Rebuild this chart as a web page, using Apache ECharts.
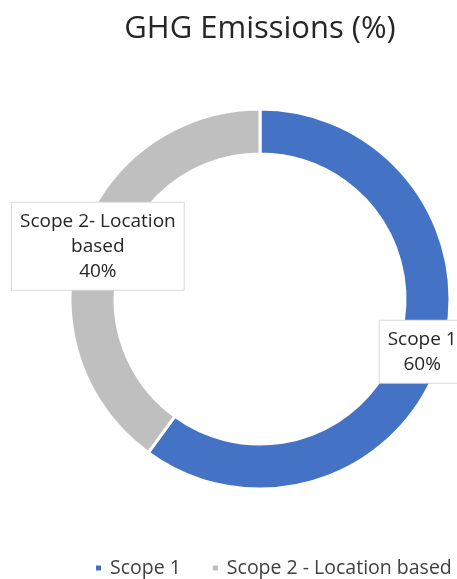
<!DOCTYPE html>
<html>
<head>
<meta charset="utf-8">
<script src="https://cdn.jsdelivr.net/npm/echarts@6/dist/echarts.min.js"></script>
<style>
  html, body { margin: 0; padding: 0; background: #fff; }
  #chart { width: 457px; height: 579px; }
</style>
</head>
<body>
<div id="chart"></div>
<script>
  // data
  var categories = ['Scope 1', 'Scope 2 - Location based'];
  var labelTexts = ['Scope 1', 'Scope 2- Location\nbased'];
  var values = [60, 40];
  var colors = ['#4472C4', '#BFBFBF'];

  var font = '"Open Sans", sans-serif';
  var chart = echarts.init(document.getElementById('chart'));

  var pieData = categories.map(function (name, i) {
    return { name: name, value: values[i], itemStyle: { color: colors[i] } };
  });

  chart.setOption({
    animation: false,
    title: {
      text: 'GHG Emissions (%)',
      left: 255,
      top: 9,
      textAlign: 'center',
      textStyle: { fontFamily: font, fontSize: 31, fontWeight: 'normal', color: '#262626' }
    },
    legend: {
      data: categories,
      top: 553,
      left: 89,
      icon: 'rect',
      itemWidth: 7,
      itemHeight: 7,
      itemGap: 30,
      textStyle: { fontFamily: font, fontSize: 19.5, color: '#404040', padding: [0, 0, 0, 3] }
    },
    series: [{
      type: 'pie',
      center: [260, 299],
      radius: [145, 190],
      startAngle: 90,
      clockwise: true,
      itemStyle: { borderColor: '#fff', borderWidth: 3 },
      label: {
        show: true,
        position: 'inside',
        formatter: function (p) { return labelTexts[p.dataIndex] + '\n' + p.value + '%'; },
        fontFamily: font,
        fontSize: 19,
        lineHeight: 25,
        color: '#262626',
        backgroundColor: '#fff',
        borderColor: '#d9d9d9',
        borderWidth: 1,
        padding: [6, 8]
      },
      labelLine: { show: false },
      data: pieData
    }]
  });
</script>
</body>
</html>
